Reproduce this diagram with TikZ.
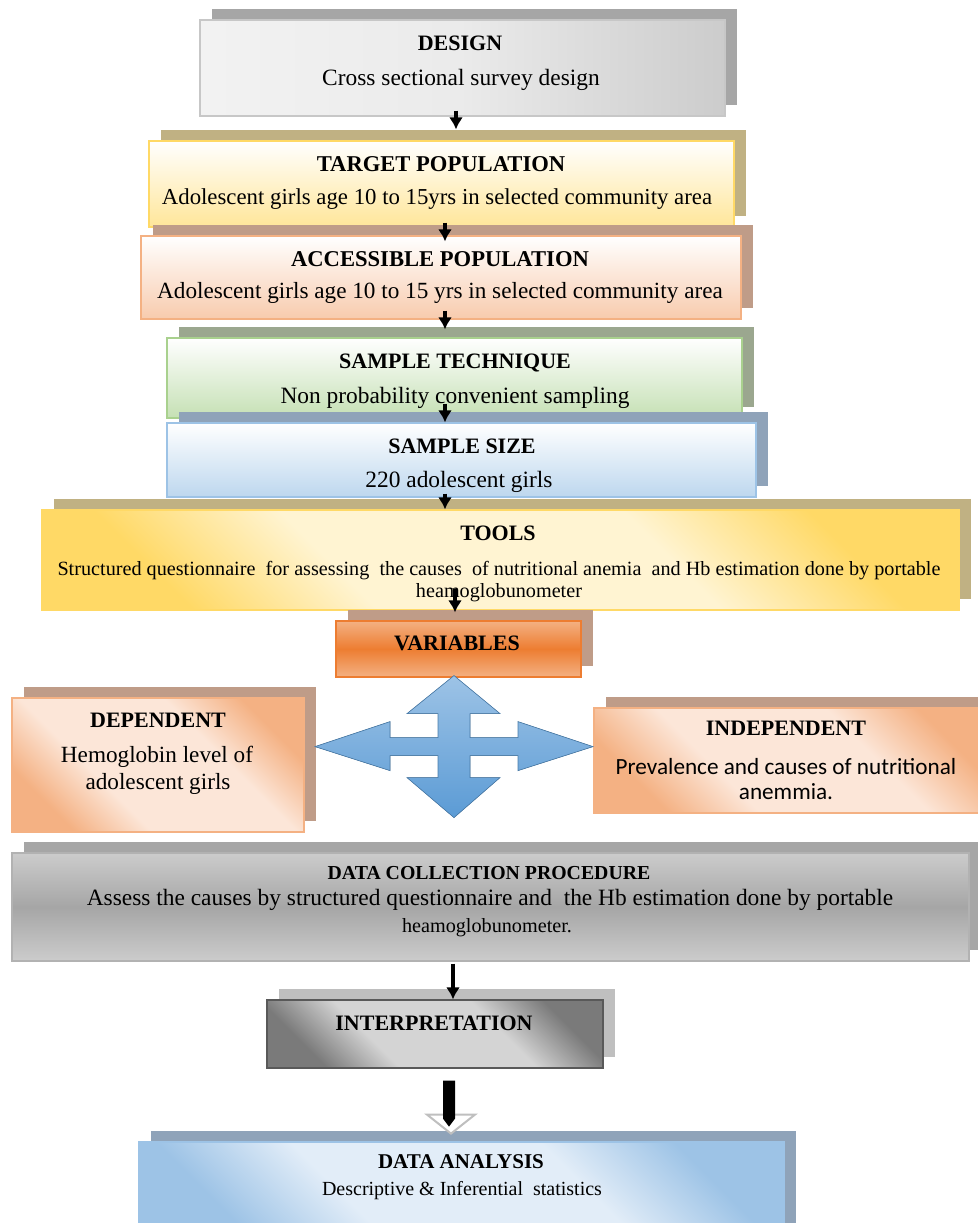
\documentclass[tikz,border=0pt]{standalone}
\usepackage{fontspec}
\setmainfont{Liberation Serif}
\newfontfamily\calfont{Carlito}
\usetikzlibrary{positioning, calc, fit, shadows, arrows.meta}
\definecolor{shGrey}{HTML}{A6A6A6}
\definecolor{shKhaki}{HTML}{C0B183}
\definecolor{shPeach}{HTML}{BF9C88}
\definecolor{shGreen}{HTML}{9BA78F}
\definecolor{shBlue}{HTML}{8FA3B9}
\definecolor{shLight}{HTML}{BFBFBF}
\definecolor{yelA}{HTML}{FFE699}
\definecolor{yelB}{HTML}{FFD966}
\definecolor{yelC}{HTML}{FFF4D2}
\definecolor{pchA}{HTML}{F8CBAD}
\definecolor{pchB}{HTML}{F4B183}
\definecolor{pchC}{HTML}{FCE6D8}
\definecolor{orgA}{HTML}{ED7D31}
\definecolor{grnA}{HTML}{C5E0B4}
\definecolor{grnB}{HTML}{A9D18E}
\definecolor{bluA}{HTML}{BDD7EE}
\definecolor{bluB}{HTML}{9DC3E6}
\definecolor{bluC}{HTML}{E2EDF8}
\definecolor{bluD}{HTML}{5B9BD5}
\definecolor{gryA}{HTML}{7A7A7A}
\definecolor{gryB}{HTML}{D4D4D4}
% soft diagonal shadings, light in the middle
\newcommand{\softshade}[3]{\pgfdeclareverticalshading{#1}{100bp}{color(0bp)=(#2); color(25bp)=(#2); color(38bp)=(#3); color(62bp)=(#3); color(75bp)=(#2); color(100bp)=(#2)}}
\softshade{toolshade}{yelB}{yelC}
\softshade{peachshade}{pchB}{pchC}
\softshade{greyshade}{gryA}{gryB}
\softshade{blueshade}{bluB}{bluC}
\tikzstyle{Arrow} = [line width=1.6pt, -{Latex[length=6pt,width=7pt]}]
\tikzset{
  box/.style={inner sep=0pt, line width=0.6pt},
  backing/.style={general shadow={fill=#1, shadow xshift=6pt, shadow yshift=5.5pt}},
  diag/.style={shade, shading=#1, shading angle=-45},
  band/.style 2 args={top color=#1, bottom color=#1, middle color=#2},
  head/.style={anchor=base, inner sep=0pt, font=\bfseries\fontsize{11}{13}\selectfont},
  body/.style={anchor=base, inner sep=0pt, font=\fontsize{11.7}{14}\selectfont}
}

\begin{document}
\begin{tikzpicture}[x=0.5pt, y=-0.5pt]
    \useasboundingbox (0,0) rectangle (978,1223);

    % design and population
    \node[box, backing=shGrey, draw=black!22, left color=black!5, right color=black!20, middle color=black!8,
          fit={(200,20) (725,116)}] (design) {};
    \node[head] (designT) at (460,50) {DESIGN};
    \node[body] (designS) at (461,85) {Cross sectional survey design};

    \node[box, backing=shKhaki, draw=yelB, top color=white, bottom color=yelA,
          fit={(149,141) (734,227)}] (target) {};
    \node[head, font=\bfseries\fontsize{11.3}{13}\selectfont] (targetT) at (441,171) {TARGET POPULATION};
    \node[body, font=\fontsize{11.4}{14}\selectfont] (targetS) at (437,204) {Adolescent girls age 10 to 15yrs in selected community area};

    \node[box, backing=shPeach, draw=pchB, top color=white, bottom color=pchA,
          fit={(141,236) (741,319)}] (access) {};
    \node[head, font=\bfseries\fontsize{11.3}{13}\selectfont] (accessT) at (440,266) {ACCESSIBLE POPULATION};
    \node[body, font=\fontsize{11.6}{14}\selectfont] (accessS) at (440,298) {Adolescent girls age 10 to 15 yrs in selected community area};

    % sampling
    \node[box, backing=shGreen, draw=grnB, top color=white, bottom color=grnA,
          fit={(167,338) (742,418)}] (samptech) {};
    \node[head] (samptechT) at (455,368) {SAMPLE TECHNIQUE};
    \node[body] (samptechS) at (455,403) {Non probability convenient sampling};

    \node[box, backing=shBlue, draw=bluB, top color=white, bottom color=bluA,
          fit={(167,423) (756,497)}] (sampsize) {};
    \node[head] (sampsizeT) at (462,453) {SAMPLE SIZE};
    \node[body] (sampsizeS) at (459,487) {220 adolescent girls};

    \node[box, backing=shKhaki, draw=yelB, diag=toolshade,
          fit={(42,510) (959,610)}] (tools) {};
    \node[head] (toolsT) at (498,540) {TOOLS};
    \node[body, font=\fontsize{10.1}{12}\selectfont] (toolsS) at (499,575)
        {Structured questionnaire\ \ for assessing\ \ the causes\ \ of nutritional anemia\ \ and Hb estimation done by portable};
    \node[body, font=\fontsize{10.1}{12}\selectfont] (toolsS2) at (499,597) {heamoglobunometer};

    % variables
    \node[box, backing=shPeach, draw=orgA, band={pchB}{orgA},
          fit={(336,621) (581,677)}] (vars) {};
    \node[head] (varsT) at (457,650) {VARIABLES};

    \node[box, backing=shPeach, draw=pchB, diag=peachshade,
          fit={(12,698) (304,832)}] (dep) {};
    \node[head] (depT) at (158,727) {DEPENDENT};
    \node[body, font=\fontsize{11.6}{14}\selectfont] (depS) at (157,762) {Hemoglobin level of};
    \node[body, font=\fontsize{11.6}{14}\selectfont] (depS2) at (158,789) {adolescent girls};

    \node[box, backing=shPeach, draw=pchB, diag=peachshade,
          fit={(594,708) (992,813)}] (indep) {};
    \node[head] (indepT) at (786,735) {INDEPENDENT};
    \node[body, font=\calfont\fontsize{11.6}{14}\selectfont] (indepS) at (786,774) {Prevalence and causes of nutritional};
    \node[body, font=\calfont\fontsize{11.6}{14}\selectfont] (indepS2) at (786,799) {anemmia.};

    % four way arrow
    \filldraw[draw=bluD!80!black, line width=0.3pt, top color=bluB, bottom color=bluD]
        ($(vars.south)+(-4.5,-2)$) -- ++(46,38) -- ++(-30,0) -- ++(0,24) -- ++(48,0) -- ++(0,-16)
        -- ++(75,25) -- ++(-75,24) -- ++(0,-15) -- ++(-48,0) -- ++(0,22) -- ++(30,0)
        -- ++(-46,40) -- ++(-47,-40) -- ++(31,0) -- ++(0,-22) -- ++(-48,0) -- ++(0,15)
        -- ++(-75,-24) -- ++(75,-25) -- ++(0,16) -- ++(48,0) -- ++(0,-24) -- ++(-31,0) -- cycle;

    % collection and analysis
    \node[box, backing=shGrey, draw=black!30, band={black!20}{black!35},
          fit={(12,853) (969,961)}] (datacoll) {};
    \node[head, font=\bfseries\fontsize{9.9}{12}\selectfont] (datacollT) at (489,879) {DATA COLLECTION PROCEDURE};
    \node[body] (datacollS) at (490,905) {Assess the causes by structured questionnaire and\ \ the Hb estimation done by portable};
    \node[body, font=\fontsize{10.1}{12}\selectfont] (datacollS2) at (487,932) {heamoglobunometer.};

    \node[box, backing=shLight, draw=black!65, diag=greyshade,
          fit={(267,1000) (603,1068)}] (interp) {};
    \node[head] (interpT) at (434,1030) {INTERPRETATION};

    \node[box, backing=shBlue, draw=bluB, diag=blueshade,
          fit={(139,1142) (784,1235)}] (analysis) {};
    \node[head, font=\bfseries\fontsize{10.5}{12}\selectfont] (analysisT) at (461,1168) {DATA ANALYSIS};
    \node[body, font=\fontsize{10}{12}\selectfont] (analysisS) at (462,1195) {Descriptive \& Inferential\ \ statistics};

    \draw[Arrow] ($(design.south)+(-6.5,-6)$) -- ($(target.north)+(14.5,-11)$);
    \draw[Arrow] ($(target.south)+(3.5,-5)$) -- ($(access.north)+(4,6)$);
    \draw[Arrow] ($(access.south)+(4,-9)$) -- ($(samptech.north)+(-9.5,-8)$);
    \draw[Arrow] ($(samptech.south)+(-9.5,-15)$) -- ($(sampsize.north)+(-16.5,0)$);
    \draw[Arrow] ($(sampsize.south)+(-16.5,-4)$) -- ($(tools.north)+(-55.5,0)$);
    \draw[Arrow] ($(tools.south)+(-45.5,-22)$) -- ($(vars.north)+(-3.5,-8)$);
    \draw[Arrow] ($(datacoll.south)+(-37.5,2)$) -- ($(interp.north)+(18,0)$);
    % block arrow to analysis
    \filldraw[fill=white, draw=black!25, line width=1pt] ($(interp.south)+(-8,46)$) -- ++(48,0) -- ++(-24,19) -- cycle;
    \fill[black] ($(interp.south)+(8,12)$) -- ++(12,0) -- ++(0,38) -- ++(-6,8) -- ++(-6,-8) -- cycle;
\end{tikzpicture}
\end{document}
